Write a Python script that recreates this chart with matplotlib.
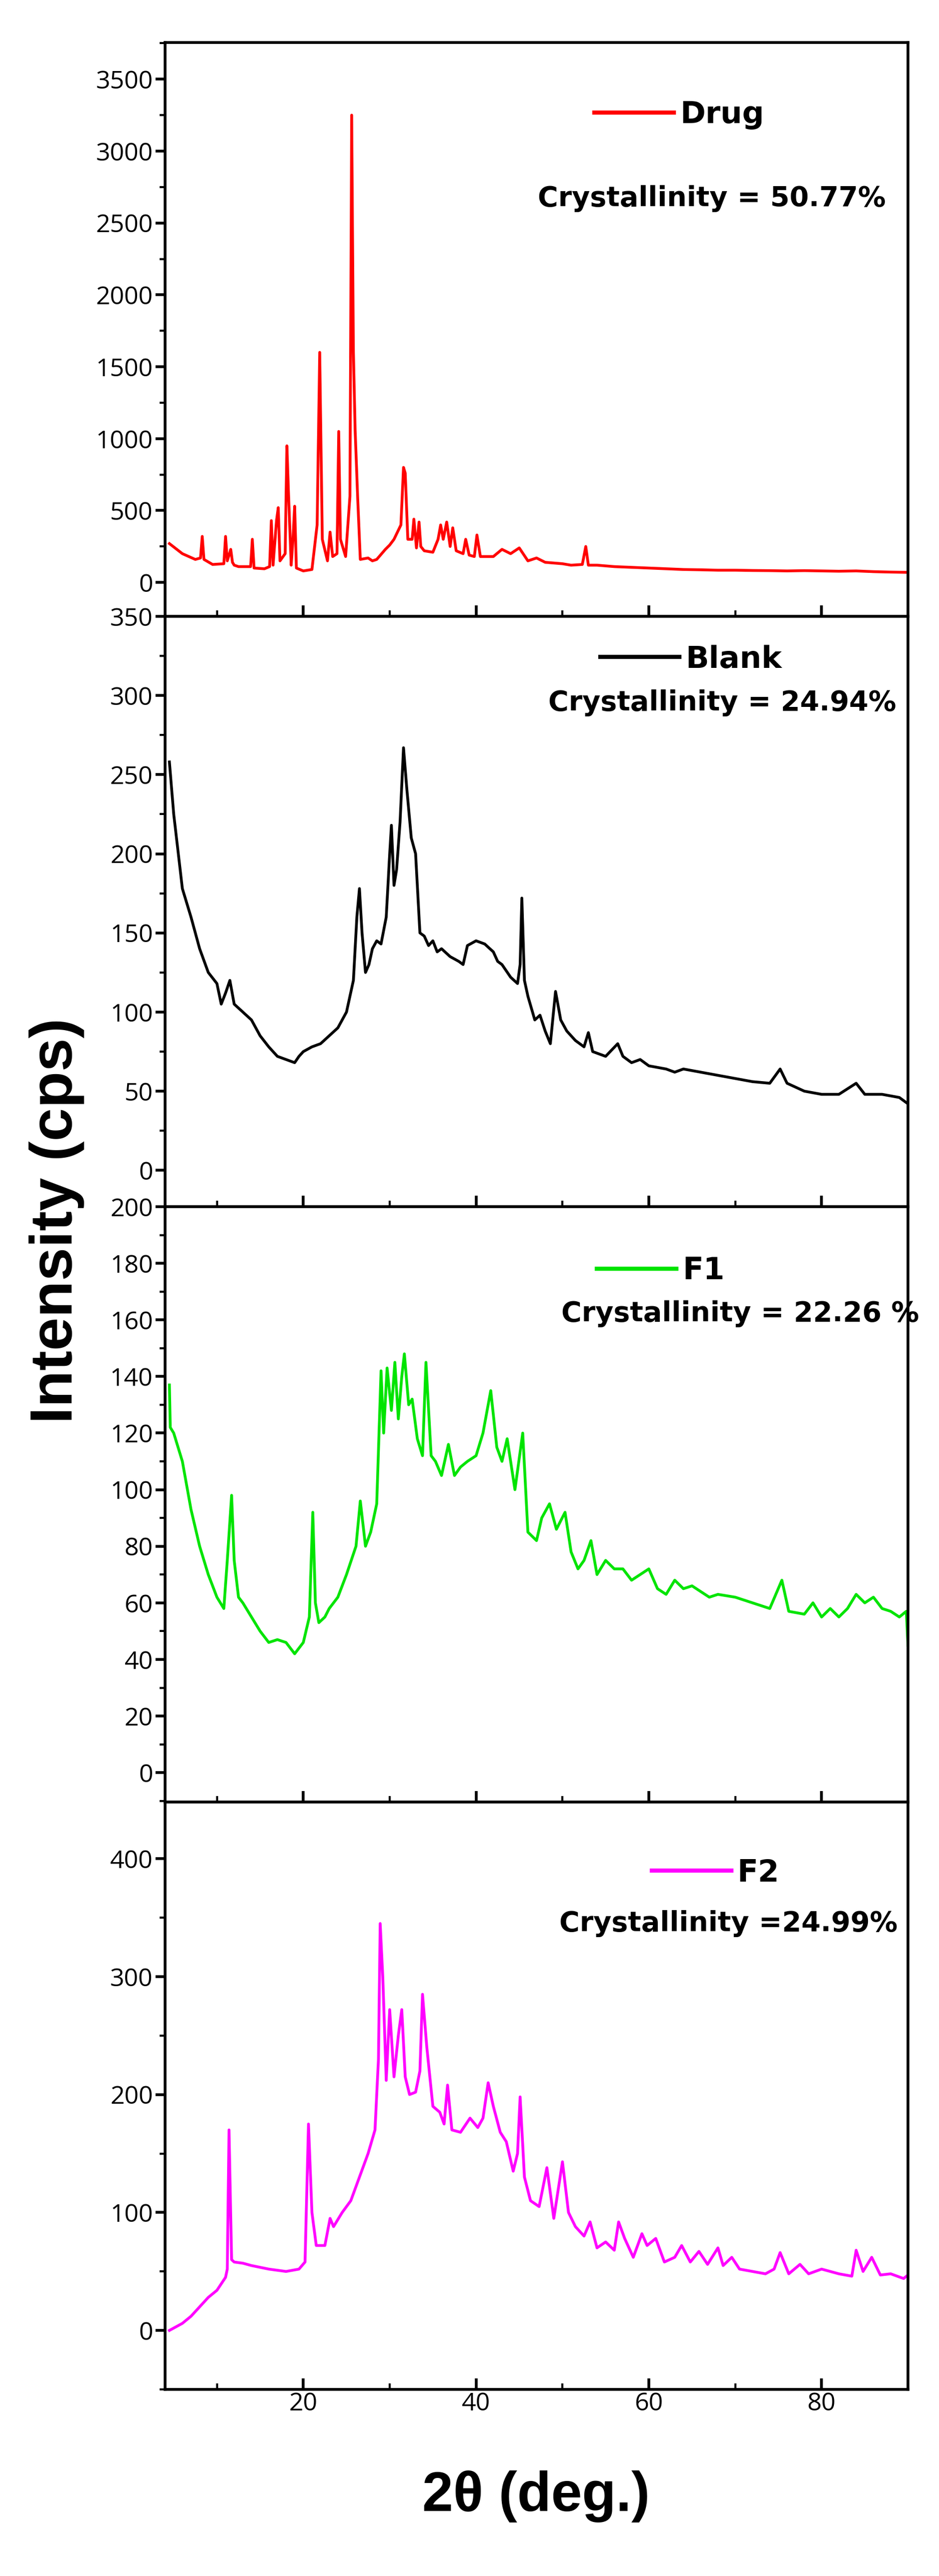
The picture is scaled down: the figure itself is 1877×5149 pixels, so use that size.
import numpy as np
import matplotlib
matplotlib.use("Agg")
import matplotlib.pyplot as plt
from matplotlib.ticker import MultipleLocator

# (2theta, intensity) points
drug_pts = [(4.5, 270), (6, 200), (7.5, 160), (8.1, 170), (8.3, 320), (8.5, 160), (9.5, 125), (10.8, 130),
            (11.0, 320), (11.2, 150), (11.6, 230), (11.8, 140), (12.0, 120), (12.5, 110), (13.9, 110),
            (14.1, 300), (14.3, 100), (15.5, 95), (16.1, 110), (16.3, 430), (16.5, 120), (16.9, 430),
            (17.1, 520), (17.3, 150), (17.9, 200), (18.1, 950), (18.3, 600), (18.6, 120), (18.8, 300),
            (19.0, 530), (19.2, 100), (20, 80), (21.0, 90), (21.6, 400), (21.9, 1600), (22.2, 300),
            (22.8, 150), (23.1, 350), (23.4, 180), (23.9, 200), (24.1, 1050), (24.3, 300), (24.9, 180),
            (25.4, 600), (25.6, 3250), (25.8, 1600), (26.0, 1060), (26.3, 580), (26.6, 160), (27.5, 170),
            (28.0, 150), (28.5, 160), (29.5, 230), (30.0, 260), (30.5, 300), (31.3, 400), (31.6, 800),
            (31.8, 760), (32.1, 300), (32.6, 300), (32.8, 440), (33.1, 240), (33.4, 420), (33.6, 250),
            (34.0, 220), (35.0, 210), (35.6, 300), (35.9, 400), (36.2, 300), (36.6, 420), (37.0, 250),
            (37.3, 380), (37.7, 220), (38.5, 200), (38.8, 300), (39.2, 190), (39.8, 180), (40.1, 330),
            (40.5, 180), (42, 180), (43, 230), (44, 200), (45, 240), (46, 150), (47, 170), (48, 140),
            (50, 130), (51, 120), (52.3, 125), (52.7, 250), (53.0, 120), (54, 120), (56, 110), (58, 105),
            (60, 100), (62, 95), (64, 90), (66, 88), (68, 85), (70, 85), (72, 83), (74, 82), (76, 80),
            (78, 82), (80, 80), (82, 78), (84, 80), (86, 75), (88, 72), (90, 70)]

blank_pts = [(4.5, 258), (5, 225), (6, 178), (7, 160), (8, 140), (9, 125), (10, 118), (10.5, 105), (11, 112),
             (11.5, 120), (12, 105), (13, 100), (14, 95), (15, 85), (16, 78), (17, 72), (18, 70), (19, 68),
             (19.5, 72), (20, 75), (21, 78), (22, 80), (23, 85), (24, 90), (25, 100), (25.8, 120),
             (26.2, 160), (26.5, 178), (26.8, 150), (27.2, 125), (27.6, 130), (28, 140), (28.5, 145),
             (29, 143), (29.6, 160), (30.0, 200), (30.2, 218), (30.5, 180), (30.8, 190), (31.2, 220),
             (31.6, 267), (32.0, 240), (32.5, 210), (33, 200), (33.5, 150), (34, 148), (34.5, 142),
             (35, 145), (35.5, 138), (36, 140), (37, 135), (38, 132), (38.5, 130), (39, 142), (40, 145),
             (41, 143), (42, 138), (42.5, 132), (43, 130), (44, 122), (44.8, 118), (45.1, 130),
             (45.3, 172), (45.6, 120), (46, 110), (46.8, 95), (47.4, 98), (48, 88), (48.6, 80),
             (49.2, 113), (49.8, 95), (50.5, 88), (51.5, 82), (52.5, 78), (53, 87), (53.5, 75), (55, 72),
             (56.4, 80), (57, 72), (58, 68), (59, 70), (60, 66), (61, 65), (62, 64), (63, 62), (64, 64),
             (66, 62), (68, 60), (70, 58), (72, 56), (74, 55), (75.2, 64), (76, 55), (78, 50), (80, 48),
             (82, 48), (84, 55), (85, 48), (87, 48), (89, 46), (90, 42)]

f1_pts = [(4.5, 137), (4.6, 122), (5, 120), (6, 110), (7, 93), (8, 80), (9, 70), (10, 62), (10.8, 58),
          (11.2, 75), (11.7, 98), (12.0, 75), (12.5, 62), (13, 60), (14, 55), (15, 50), (16, 46), (17, 47),
          (18, 46), (19, 42), (20, 46), (20.7, 55), (21.1, 92), (21.4, 60), (21.8, 53), (22.5, 55),
          (23, 58), (24, 62), (25, 70), (26.1, 80), (26.6, 96), (27.2, 80), (27.8, 85), (28.5, 95),
          (29.0, 142), (29.3, 120), (29.7, 143), (30.2, 128), (30.6, 145), (31.0, 125), (31.4, 140),
          (31.7, 148), (32.2, 130), (32.6, 132), (33.2, 118), (33.8, 112), (34.2, 145), (34.8, 112),
          (35.3, 110), (36.0, 105), (36.8, 116), (37.5, 105), (38.2, 108), (39.0, 110), (40.0, 112),
          (40.8, 120), (41.7, 135), (42.4, 115), (43.0, 110), (43.6, 118), (44.5, 100), (45.4, 120),
          (46.0, 85), (47.0, 82), (47.6, 90), (48.5, 95), (49.3, 86), (50.3, 92), (51.0, 78), (51.8, 72),
          (52.5, 75), (53.3, 82), (54.0, 70), (55, 75), (56, 72), (57, 72), (58, 68), (59, 70), (60, 72),
          (61, 65), (62, 63), (63, 68), (64, 65), (65, 66), (66, 64), (67, 62), (68, 63), (70, 62),
          (72, 60), (74, 58), (75.4, 68), (76.2, 57), (78, 56), (79, 60), (80, 55), (81, 58), (82, 55),
          (83, 58), (84, 63), (85, 60), (86, 62), (87, 58), (88, 57), (89, 55), (89.8, 57), (90, 45)]

f2_pts = [(4.5, 0), (6, 6), (7, 12), (8, 20), (9, 28), (10, 34), (11, 45), (11.2, 52), (11.4, 170),
          (11.7, 60), (12, 58), (13, 57), (14, 55), (16, 52), (18, 50), (19.5, 52), (20.2, 58), (20.6, 175),
          (21.0, 100), (21.5, 72), (22.5, 72), (23.1, 95), (23.5, 88), (24.5, 100), (25.5, 110),
          (26.5, 130), (27.5, 150), (28.3, 170), (28.7, 230), (28.9, 345), (29.2, 300), (29.6, 212),
          (30.0, 272), (30.5, 215), (31.0, 250), (31.4, 272), (31.8, 215), (32.3, 200), (33.0, 202),
          (33.5, 220), (33.8, 285), (34.3, 240), (35.0, 190), (35.8, 185), (36.3, 175), (36.7, 208),
          (37.2, 170), (38.2, 168), (39.3, 180), (40.2, 172), (40.8, 180), (41.4, 210), (42.0, 190),
          (42.8, 168), (43.5, 160), (44.3, 135), (44.8, 150), (45.1, 198), (45.6, 130), (46.3, 110),
          (47.3, 105), (48.2, 138), (49.0, 95), (50.0, 143), (50.7, 100), (51.5, 88), (52.5, 80),
          (53.2, 92), (54.0, 70), (55, 75), (56, 68), (56.5, 92), (57.2, 78), (58.2, 62), (59.2, 82),
          (59.8, 72), (60.8, 78), (61.8, 58), (63, 62), (63.8, 72), (64.8, 58), (65.8, 67), (66.8, 56),
          (68.0, 70), (68.6, 55), (69.6, 62), (70.5, 52), (72, 50), (73.5, 48), (74.5, 52), (75.2, 66),
          (76.2, 48), (77.5, 56), (78.5, 48), (80, 52), (82, 48), (83.5, 46), (84, 68), (84.8, 50),
          (85.8, 62), (86.8, 47), (88, 48), (89.5, 44), (90, 47)]

names = ["Drug", "Blank", "F1", "F2"]
colors = ["#ff0000", "#000000", "#00e400", "#ff00ff"]
cryst = ["Crystallinity = 50.77%", "Crystallinity = 24.94%",
         "Crystallinity = 22.26 %", "Crystallinity =24.99%"]
series = [drug_pts, blank_pts, f1_pts, f2_pts]
ylims = [(-236, 3755), (-23, 350), (-10.4, 200), (-50, 448)]
ymajor = [500, 50, 20, 100]

W, H = 1877, 5149
fig = plt.figure(figsize=(W / 100, H / 100), dpi=100)
edges = [85, 1232, 2412, 3602, 4776]
left, right = 330, 1815
# legend and text positions (axes fraction)
leg_pos = [(0.692, 0.874), (0.708, 0.927), (0.667, 0.892), (0.741, 0.879)]
txt_pos = [(0.736, 0.728), (0.75, 0.853), (0.774, 0.82), (0.758, 0.793)]
narrow = ["Liberation Sans Narrow", "DejaVu Sans"]

for i in range(4):
    top, bot = edges[i], edges[i + 1]
    ax = fig.add_axes([left / W, 1 - bot / H, (right - left) / W, (bot - top) / H])
    x, y = zip(*series[i])
    ax.plot(x, y, color=colors[i], lw=4, label=names[i])
    ax.set_xlim(4, 90)
    ax.set_ylim(*ylims[i])
    ax.xaxis.set_major_locator(MultipleLocator(20))
    ax.xaxis.set_minor_locator(MultipleLocator(10))
    ax.yaxis.set_major_locator(MultipleLocator(ymajor[i]))
    ax.yaxis.set_minor_locator(MultipleLocator(ymajor[i] / 2))
    ax.tick_params(axis="x", direction="in", length=16, width=4, labelsize=36)
    ax.tick_params(axis="x", which="minor", direction="in", length=9, width=3)
    ax.tick_params(axis="y", direction="out", length=14, width=4, labelsize=36)
    ax.tick_params(axis="y", which="minor", direction="out", length=8, width=3)
    for lab in ax.get_xticklabels() + ax.get_yticklabels():
        lab.set_family("Open Sans")
    for s in ax.spines.values():
        s.set_linewidth(4)
    if i < 3:
        ax.tick_params(axis="x", labelbottom=False)
    leg = ax.legend(loc="center", bbox_to_anchor=leg_pos[i], frameon=False, handlelength=2.6,
                    handletextpad=0.2, prop={"family": narrow, "weight": "bold", "size": 44})
    for l in leg.get_lines():
        l.set_linewidth(6)
    ax.text(*txt_pos[i], cryst[i], transform=ax.transAxes, ha="center", va="center",
            family=narrow, weight="bold", fontsize=40)

fig.text(114 / W, 1 - 2440 / H, "Intensity (cps)", rotation=90, ha="center", va="center",
         family="Liberation Sans", weight="bold", fontsize=86)
fig.text(1072 / W, 1 - 4990 / H, "2\u03b8 (deg.)", ha="center", va="center",
         family="Liberation Sans", weight="bold", fontsize=80)

fig.savefig("out.png", dpi=100)
